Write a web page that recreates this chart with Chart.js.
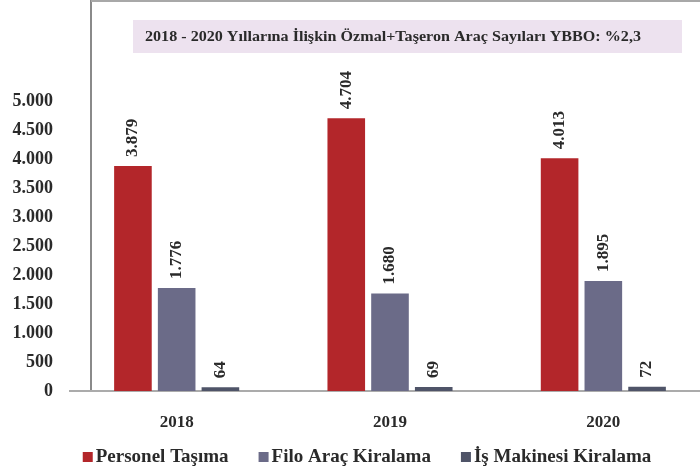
<!DOCTYPE html>
<html>
<head>
<meta charset="utf-8">
<script src="https://cdn.jsdelivr.net/npm/chart.js@4"></script>
<style>
    html, body { margin: 0; padding: 0; background: #fff; }
    body { width: 700px; height: 468px; overflow: hidden; }
    #wrap { width: 712px; height: 468px; }
</style>
</head>
<body>
<div id="wrap"><canvas id="aracChart" width="712" height="468"></canvas></div>
<script>
// ======================================
// Data
// ======================================
const years = ['2018', '2019', '2020'];
const personelTasima = [3879, 4704, 4013];
const filoAracKiralama = [1776, 1680, 1895];
const isMakinesiKiralama = [64, 69, 72];
const seriesNames = ['Personel Taşıma', 'Filo Araç Kiralama', 'İş Makinesi Kiralama'];
const chartTitle = '2018 - 2020 Yıllarına İlişkin Özmal+Taşeron Araç Sayıları YBBO: %2,3';

const FONT = "'Liberation Serif', 'Times New Roman', serif";
const colors = ['#b3262a', '#6b6b88', '#4f5468'];

function fmt(v) {
    return String(v).replace(/\B(?=(\d{3})+(?!\d))/g, '.');
}

// ======================================
// Frame + title box (background)
// ======================================
const framePlugin = {
    id: 'framePlugin',
    beforeDraw(chart) {
        const ctx = chart.ctx;
        ctx.save();
        ctx.fillStyle = '#fff';
        ctx.fillRect(0, 0, chart.width, chart.height);

        // document frame lines
        ctx.strokeStyle = '#8a8a8a';
        ctx.lineWidth = 2;
        ctx.beginPath();
        ctx.moveTo(91, 0);
        ctx.lineTo(91, chart.chartArea.bottom);
        ctx.stroke();
        ctx.strokeStyle = '#a8a8a8';
        ctx.beginPath();
        ctx.moveTo(91, 1);
        ctx.lineTo(700, 1);
        ctx.stroke();

        // title box
        ctx.fillStyle = '#ede2ef';
        ctx.fillRect(133, 20, 549, 33);
        ctx.fillStyle = '#2a2a2a';
        ctx.font = 'bold 14px ' + FONT;
        ctx.textBaseline = 'middle';
        ctx.textAlign = 'left';
        const w = ctx.measureText(chartTitle).width;
        ctx.translate(145, 37);
        ctx.scale(496 / w, 1);
        ctx.fillText(chartTitle, 0, 0);
        ctx.restore();
    }
};

// ======================================
// Rotated value labels + legend
// ======================================
const labelPlugin = {
    id: 'labelPlugin',
    afterDatasetsDraw(chart) {
        const ctx = chart.ctx;
        ctx.save();
        ctx.font = 'bold 17px ' + FONT;
        ctx.fillStyle = '#2a2a2a';
        ctx.textAlign = 'left';
        ctx.textBaseline = 'middle';
        chart.data.datasets.forEach((ds, i) => {
            chart.getDatasetMeta(i).data.forEach((bar, j) => {
                ctx.save();
                ctx.translate(bar.x, bar.y - 9);
                ctx.rotate(-Math.PI / 2);
                ctx.fillText(fmt(ds.data[j]), 0, 0);
                ctx.restore();
            });
        });
        ctx.restore();
    },
    afterDraw(chart) {
        const ctx = chart.ctx;
        ctx.save();
        ctx.font = 'bold 19px ' + FONT;
        ctx.textBaseline = 'middle';
        ctx.textAlign = 'left';
        const box = 10, gap = 3, itemGap = 30;
        const widths = seriesNames.map(n => ctx.measureText(n).width);
        let total = widths.reduce((a, b) => a + b, 0) + seriesNames.length * (box + gap) + itemGap * (seriesNames.length - 1);
        let x = 367 - total / 2;
        const y = 457;
        seriesNames.forEach((n, i) => {
            ctx.fillStyle = colors[i];
            ctx.fillRect(x, y - 5, box, box);
            x += box + gap;
            ctx.fillStyle = '#2a2a2a';
            ctx.fillText(n, x, y);
            x += widths[i] + itemGap;
        });
        ctx.restore();
    }
};

// ======================================
// Chart
// ======================================
new Chart(document.getElementById('aracChart'), {
    type: 'bar',
    data: {
        labels: years,
        datasets: [
            { label: seriesNames[0], data: personelTasima, backgroundColor: colors[0] },
            { label: seriesNames[1], data: filoAracKiralama, backgroundColor: colors[1] },
            { label: seriesNames[2], data: isMakinesiKiralama, backgroundColor: colors[2] }
        ]
    },
    options: {
        responsive: false,
        animation: false,
        barPercentage: 0.86,
        categoryPercentage: 0.615,
        layout: {
            padding: { top: 101, right: 2, left: 0, bottom: 0 }
        },
        plugins: {
            legend: { display: false },
            tooltip: { enabled: false }
        },
        scales: {
            x: {
                grid: { display: false },
                border: { color: '#ababab', width: 2 },
                ticks: {
                    color: '#2a2a2a',
                    padding: 13,
                    font: { family: FONT, size: 17, weight: 'bold' }
                },
                afterFit(scale) { scale.height = 77; }
            },
            y: {
                min: 0,
                max: 5000,
                grid: { display: false, drawTicks: false },
                border: { display: false },
                ticks: {
                    stepSize: 500,
                    color: '#2a2a2a',
                    padding: 17,
                    font: { family: FONT, size: 18, weight: 'bold' },
                    callback: v => fmt(v)
                },
                afterFit(scale) { scale.width = 70; }
            }
        }
    },
    plugins: [framePlugin, labelPlugin]
});
</script>
</body>
</html>
